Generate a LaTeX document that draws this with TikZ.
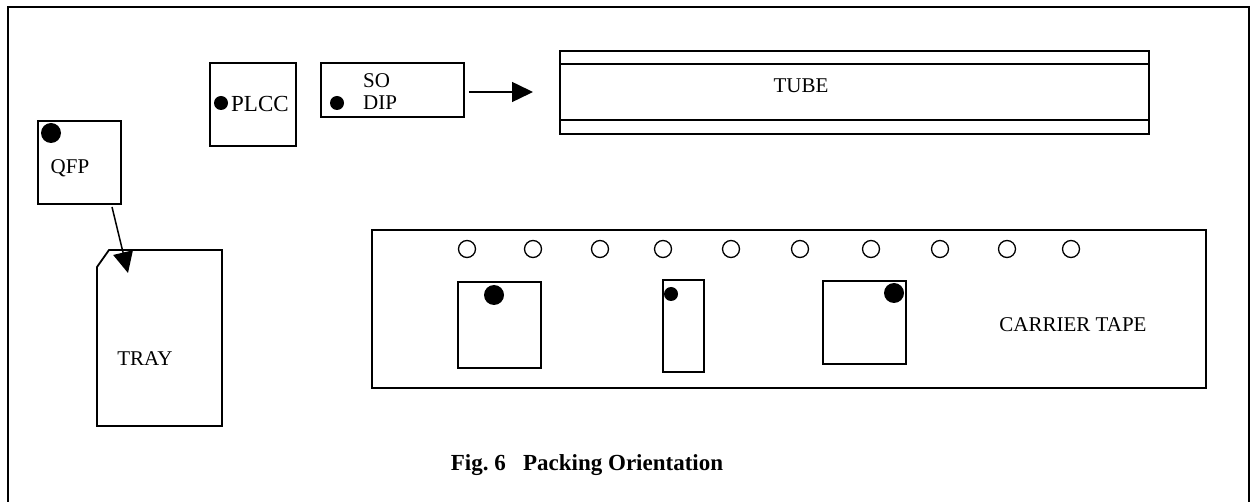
\documentclass[tikz,border=0pt]{standalone}
\usepackage{fontspec}
\setmainfont{Liberation Serif}
\usetikzlibrary{arrows.meta}
\begin{document}
\begin{tikzpicture}[x=1pt,y=-1pt,
  outline/.style={draw=black,line width=1.8pt},
  part/.style={draw=black,line width=1.7pt,minimum width=0pt,minimum height=0pt,inner sep=0pt},
  pin1/.style={circle,fill=black,inner sep=0pt},
  hole/.style={circle,draw=black,line width=1.3pt,minimum size=17pt,inner sep=0pt},
  lbl/.style={inner sep=0pt,font=\fontsize{21}{25}\selectfont},
  feed/.style={line width=1.5pt,-{Triangle[length=21pt,width=20pt]}}]
\useasboundingbox (0,0) rectangle (1252,502);

% outer frame (bottom edge runs off the page)
\draw[outline] (8,502) -- (8,7) -- (1249,7) -- (1249,502);

% QFP
\node[part,minimum width=83pt,minimum height=83pt] (qfp) at (79.5,162.5) {};
\node[pin1,minimum size=20pt] (qfpdot) at (51,133) {};
\node[lbl] (qfplbl) at (70,168) {QFP};

% PLCC
\node[part,minimum width=86pt,minimum height=83pt] (plcc) at (253,104.5) {};
\node[pin1,minimum size=14pt] (plccdot) at (221,103) {};
\node[lbl,anchor=west,font=\fontsize{23}{27}\selectfont] (plcclbl) at (231,104) {PLCC};

% SO / DIP
\node[part,minimum width=143pt,minimum height=54pt] (sodip) at (392.5,90) {};
\node[pin1,minimum size=14pt] (sodipdot) at (337,103) {};
\node[lbl,anchor=west] (solbl) at (363,81) {SO};
\node[lbl,anchor=west] (diplbl) at (363,103) {DIP};

% tube
\node[part,minimum width=589pt,minimum height=83pt] (tube) at (854.5,92.5) {};
\draw[line width=1.2pt] (tube.west |- 0,64) -- (tube.east |- 0,64);
\draw[line width=1.2pt] (tube.west |- 0,120) -- (tube.east |- 0,120);
\node[lbl] (tubelbl) at (801,86) {TUBE};
\coordinate (tubein) at (533,92);
\draw[feed] (sodip.east |- tubein) ++(4,0) coordinate (sodipout) (sodipout) -- (tubein);

% tray with chamfered corner
\draw[outline] (109,250) -- (222,250) -- (222,426) -- (97,426) -- (97,267) -- cycle;
\node[lbl] (traylbl) at (145,359) {TRAY};
\coordinate (trayin) at (128,273);
\coordinate (qfpout) at (112,207);
\draw[feed] (qfpout) -- (trayin);

% carrier tape
\node[part,minimum width=834pt,minimum height=158pt] (tape) at (789,309) {};
\foreach \i/\x in {1/467,2/533,3/600,4/663,5/731,6/800,7/871,8/940,9/1007,10/1071}
  \node[hole] (hole\i) at (\x,249) {};
\node[part,minimum width=83pt,minimum height=86pt] (pocketa) at (499.5,325) {};
\node[pin1,minimum size=20pt] (pocketadot) at (494,295) {};
\node[part,minimum width=41pt,minimum height=92pt] (pocketb) at (683.5,326) {};
\node[pin1,minimum size=14pt] (pocketbdot) at (671,294) {};
\node[part,minimum width=83pt,minimum height=83pt] (pocketc) at (864.5,322.5) {};
\node[pin1,minimum size=20pt] (pocketcdot) at (894,293) {};
\node[lbl] (tapelbl) at (1073,325) {CARRIER TAPE};

% caption
\node[inner sep=0pt,font=\fontsize{23}{27}\selectfont\bfseries] (caption) at (587,465) {Fig.~6\hspace{0.75em}Packing Orientation};
\end{tikzpicture}
\end{document}
